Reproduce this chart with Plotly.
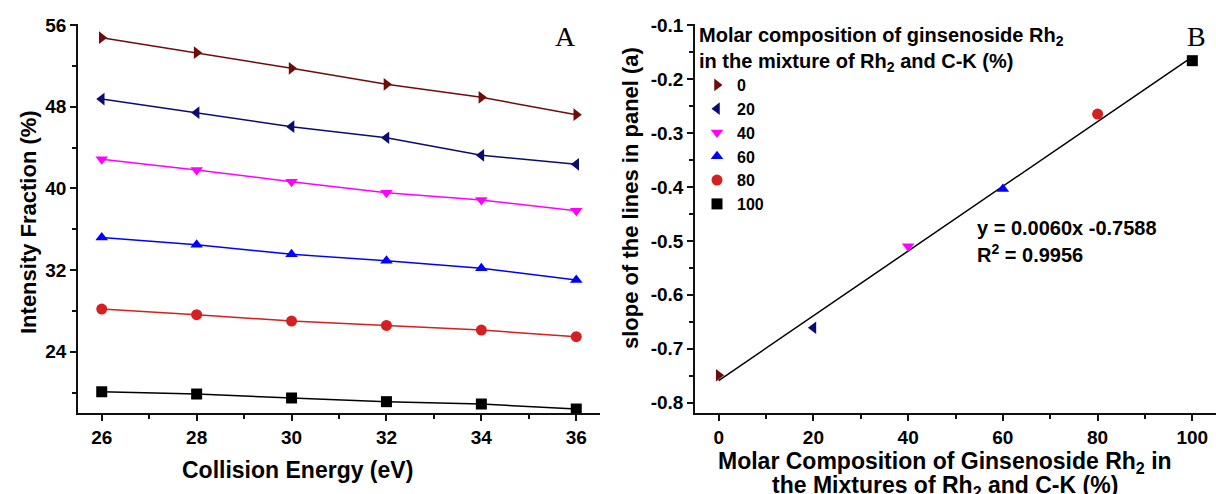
import plotly.graph_objects as go

# Panel A: intensity fraction vs collision energy for each Rh2 molar composition
energy = [26, 28, 30, 32, 34, 36]
comp_labels = ["0", "20", "40", "60", "80", "100"]
frac_0 = [54.76, 53.29, 51.76, 50.19, 48.92, 47.22]
frac_20 = [48.75, 47.41, 46.04, 44.96, 43.24, 42.36]
frac_40 = [42.85, 41.80, 40.65, 39.58, 38.86, 37.81]
frac_60 = [35.20, 34.48, 33.54, 32.92, 32.17, 31.02]
frac_80 = [28.18, 27.63, 27.00, 26.58, 26.12, 25.47]
frac_100 = [20.08, 19.86, 19.47, 19.11, 18.88, 18.39]

# Panel B: slope of each line in panel A vs molar composition
composition = [0, 20, 40, 60, 80, 100]
slopes = [-0.749, -0.661, -0.510, -0.404, -0.265, -0.166]
fit_slope = 0.0060
fit_intercept = -0.7588
fit_x = [0, 100]

colors = ["#6e0c0c", "#0c0c70", "#ff00ff", "#0000ff", "#d42020", "#000000"]
symbols = ["triangle-right", "triangle-left", "triangle-down", "triangle-up", "circle", "square"]
series_a = [frac_0, frac_20, frac_40, frac_60, frac_80, frac_100]

FONT = "Liberation Sans, Arial, sans-serif"
W, H = 1216, 494

fig = go.Figure()

for vals, col, sym in zip(series_a, colors, symbols):
    fig.add_trace(go.Scatter(
        x=energy, y=vals, mode="lines+markers",
        line=dict(color=col, width=1.5),
        marker=dict(symbol=sym, size=11, color=col),
        showlegend=False, xaxis="x", yaxis="y",
    ))

# regression line in panel B
fig.add_trace(go.Scatter(
    x=fit_x, y=[fit_slope * v + fit_intercept for v in fit_x],
    mode="lines", line=dict(color="black", width=1.5),
    showlegend=False, xaxis="x2", yaxis="y2",
))

for xv, yv, name, col, sym in zip(composition, slopes, comp_labels, colors, symbols):
    fig.add_trace(go.Scatter(
        x=[xv], y=[yv], mode="markers", name=name,
        marker=dict(symbol=sym, size=11, color=col),
        xaxis="x2", yaxis="y2",
    ))

tickfont = dict(family=FONT, size=19, color="black", weight="bold")
axis_common = dict(
    showline=True, linecolor="#111", linewidth=1.5, mirror=False,
    ticks="outside", ticklen=6, tickwidth=1.5, tickcolor="#111",
    showgrid=False, zeroline=False, tickfont=tickfont, automargin=False,
)


def minor(dtick):
    return dict(dtick=dtick, tick0=0, ticks="outside", ticklen=4, tickwidth=1.5, tickcolor="#111")


y_dom = [1 - 413 / H, 1 - 24 / H]

fig.update_layout(
    width=W, height=H,
    margin=dict(l=0, r=0, t=0, b=0, autoexpand=False),
    paper_bgcolor="white", plot_bgcolor="white",
    font=dict(family=FONT, color="black"),
    xaxis=dict(domain=[78 / W, 600 / W], range=[25.5, 36.5], tickvals=energy,
               minor=minor(1), anchor="y", **axis_common),
    yaxis=dict(domain=y_dom, range=[18, 56.1], tickvals=[24, 32, 40, 48, 56],
               minor=minor(4), anchor="x", **axis_common),
    xaxis2=dict(domain=[695 / W, 1.0], range=[-5, 105], tickvals=composition,
                minor=minor(10), anchor="y2", **axis_common),
    yaxis2=dict(domain=y_dom, range=[-0.819, -0.098],
                tickvals=[-0.8, -0.7, -0.6, -0.5, -0.4, -0.3, -0.2, -0.1],
                ticktext=["-0.8", "-0.7", "-0.6", "-0.5", "-0.4", "-0.3", "-0.2", "-0.1"],
                minor=minor(0.05), anchor="x2", **axis_common),
    legend=dict(
        x=697 / W, y=1 - 16 / H, xanchor="left", yanchor="top",
        bgcolor="rgba(0,0,0,0)", borderwidth=0,
        font=dict(family=FONT, size=16, color="black", weight="bold"),
        title=dict(text="Molar composition of ginsenoside Rh<sub>2</sub><br>in the mixture of Rh<sub>2</sub> and C-K (%)",
                   font=dict(family=FONT, size=20, color="black", weight="bold"), side="top"),
        itemwidth=30, tracegroupgap=0,
    ),
)

title_font_y = dict(family=FONT, size=22, color="black", weight="bold")
title_font_x = dict(family=FONT, size=23, color="black", weight="bold")
note_font = dict(family=FONT, size=20, color="black", weight="bold")
serif_font = dict(family="Liberation Serif, Times New Roman, serif", size=28, color="black")
annotations = [
    dict(text="Intensity Fraction (%)", x=28 / W, y=1 - 222 / H, textangle=-90, font=title_font_y),
    dict(text="Collision Energy (eV)", x=297 / W, y=1 - 470 / H, font=title_font_x),
    dict(text="slope of the lines in panel (a)", x=630 / W, y=1 - 198 / H, textangle=-90, font=title_font_y),
    dict(text="Molar Composition of Ginsenoside Rh<sub>2</sub> in",
         x=945 / W, y=1 - 462 / H, font=title_font_x),
    dict(text="the Mixtures of Rh<sub>2</sub> and C-K (%)",
         x=945 / W, y=1 - 486 / H, font=title_font_x),
    dict(text="y = 0.0060x -0.7588", x=975 / W, y=1 - 228 / H, xanchor="left", font=note_font),
    dict(text="R<sup>2</sup> = 0.9956", x=975 / W, y=1 - 253 / H, xanchor="left", font=note_font),
    dict(text="A", x=565 / W, y=1 - 37 / H, font=serif_font),
    dict(text="B", x=1196 / W, y=1 - 37 / H, font=serif_font),
]
for a in annotations:
    a.setdefault("xanchor", "center")
    fig.add_annotation(xref="paper", yref="paper", showarrow=False, yanchor="middle", **a)

fig.write_html("out.html")
